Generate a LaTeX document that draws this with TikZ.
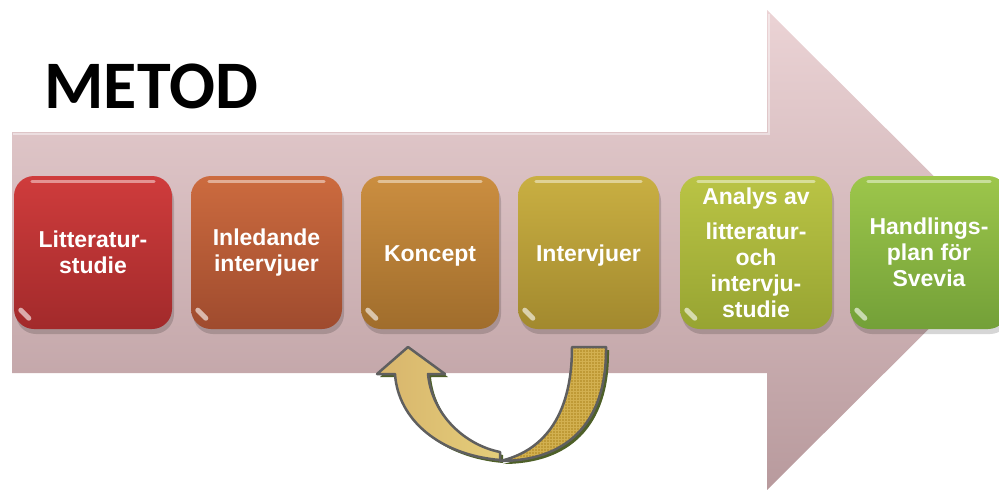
\documentclass[tikz,border=0pt]{standalone}
\usepackage{fontspec}
\setmainfont{Liberation Sans}
\newfontfamily\titlefont{Carlito}
\usetikzlibrary{patterns}
\definecolor{arrowtop}{HTML}{EBD3D5}
\definecolor{arrowbot}{HTML}{B89A9D}
\definecolor{litred}{HTML}{CF3C3C}
\definecolor{litreddk}{HTML}{A22A2B}
\definecolor{inlorange}{HTML}{CC6B3F}
\definecolor{inlorangedk}{HTML}{9F4B2E}
\definecolor{konbrown}{HTML}{CB8E40}
\definecolor{konbrowndk}{HTML}{A06D2C}
\definecolor{intolive}{HTML}{C9AF42}
\definecolor{intolivedk}{HTML}{A2892E}
\definecolor{analime}{HTML}{BAC445}
\definecolor{analimedk}{HTML}{97A432}
\definecolor{plangreen}{HTML}{9DC64B}
\definecolor{plangreendk}{HTML}{73A038}
\definecolor{loopgold}{HTML}{BF9A36}
\definecolor{loopdots}{HTML}{D2B050}
\definecolor{looptan}{HTML}{D8B56C}
\definecolor{looplight}{HTML}{E4CD7A}
\definecolor{loopline}{HTML}{5F5F5F}
\definecolor{loopshadow}{HTML}{4E6028}

\begin{document}
\begin{tikzpicture}[
    x=1pt, y=-1pt,
    stepbox/.style={rounded corners=20pt, minimum height=153pt, align=center,
        text=white, inner sep=0pt,
        font=\fontsize{23}{26}\selectfont\bfseries},
    boxshadow/.style={fill=black, opacity=0.16, rounded corners=20pt}
]

    % Canvas: 999 x 490, origin top left
    \useasboundingbox (0,0) rectangle (999,490);
    \clip (0,0) rectangle (999,490);

    % 1. Big background arrow
    \shade[top color=arrowtop, bottom color=arrowbot]
        (12,132) -- (767,132) -- (767,10) -- (1008,250) -- (767,490)
        -- (767,373) -- (12,373) -- cycle;
    \draw[white, opacity=0.45, line width=2.5pt]
        (13,134) -- (769,134) -- (769,14);

    % 2. Title
    \node[anchor=base west, font=\titlefont\fontsize{68}{68}\selectfont\bfseries]
        (metod) at (41,108) {METOD};

    % 3. Shadows under the steps
    \foreach \xa/\xb in {14/172, 191/342, 361/499, 518/659, 680/832, 850/1008} {
        \fill[boxshadow] (\xa+2,181) rectangle (\xb+2,334);
    }

    % 4. Steps
    \node[stepbox, minimum width=158pt, top color=litred, bottom color=litreddk]
        (lit) at (93,252.5) {Litteratur-\\studie};
    \node[stepbox, minimum width=151pt, top color=inlorange, bottom color=inlorangedk]
        (inl) at (266.5,252.5) {Inledande\\intervjuer};
    \node[stepbox, minimum width=138pt, top color=konbrown, bottom color=konbrowndk]
        (kon) at (430,252.5) {\raisebox{-3pt}[\height][\depth]{Koncept}};
    \node[stepbox, minimum width=141pt, top color=intolive, bottom color=intolivedk]
        (intv) at (588.5,252.5) {\raisebox{-3pt}[\height][\depth]{Intervjuer}};
    \node[stepbox, minimum width=152pt, top color=analime, bottom color=analimedk]
        (ana) at (756,252.5) {Analys av\\[9pt]litteratur-\\och\\intervju-\\studie};
    \node[stepbox, minimum width=158pt, top color=plangreen, bottom color=plangreendk]
        (plan) at (929,252.5) {Handlings-\\plan för\\Svevia};

    % glossy top edge and corner glint on every step
    \foreach \n in {lit, inl, kon, intv, ana, plan} {
        \draw[white, opacity=0.45, line width=3pt, line cap=round]
            ([xshift=18pt, yshift=-6pt]\n.north west) -- ([xshift=-18pt, yshift=-6pt]\n.north east);
        \draw[white, opacity=0.6, line width=5pt, line cap=round]
            ([xshift=7pt, yshift=19pt]\n.south west) -- ++(8,8);
    }

    % 5. Loop arrow from Intervjuer back to Koncept
    % shadow
    \begin{scope}[shift={(3,3)}]
        \fill[loopshadow] (572,347) -- (606,347) .. controls (607,425) and (565,461) .. (500,461)
            .. controls (540,452) and (572,420) .. (572,347) -- cycle;
        \fill[loopshadow] (377,374) -- (408,347) -- (445,374) -- (428,374)
            .. controls (432,415) and (465,445) .. (500,452)
            -- (500,460) .. controls (440,455) and (398,420) .. (395,374) -- cycle;
    \end{scope}
    % tail band (patterned)
    \fill[loopgold] (572,347) -- (606,347) .. controls (607,425) and (565,461) .. (500,461)
        .. controls (540,452) and (572,420) .. (572,347) -- cycle;
    \fill[pattern=grid, pattern color=loopdots] (572,347) -- (606,347)
        .. controls (607,425) and (565,461) .. (500,461)
        .. controls (540,452) and (572,420) .. (572,347) -- cycle;
    \draw[loopline, line width=2.5pt, line join=round] (572,347) -- (606,347)
        .. controls (607,425) and (565,461) .. (500,461)
        .. controls (540,452) and (572,420) .. (572,347) -- cycle;
    % head band
    \shade[left color=looptan, right color=looplight, draw=loopline,
        line width=2.5pt, line join=round]
        (377,374) -- (408,347) -- (445,374) -- (428,374)
        .. controls (432,415) and (465,445) .. (500,452)
        -- (500,460) .. controls (440,455) and (398,420) .. (395,374) -- cycle;

\end{tikzpicture}
\end{document}
